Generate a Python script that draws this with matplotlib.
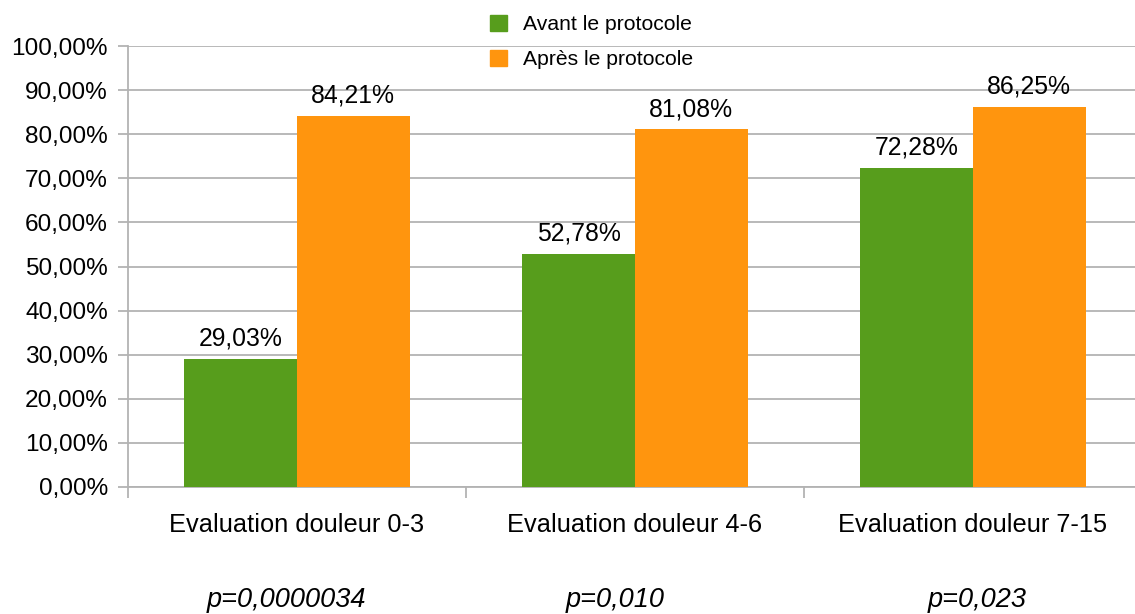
import matplotlib
matplotlib.use("Agg")
import matplotlib.pyplot as plt
from matplotlib.patches import Patch

plt.rcParams['font.family'] = ['Liberation Sans', 'DejaVu Sans']

categories = ['Evaluation douleur 0-3', 'Evaluation douleur 4-6', 'Evaluation douleur 7-15']
avant = [29.03, 52.78, 72.28]
apres = [84.21, 81.08, 86.25]
series_names = ['Avant le protocole', 'Après le protocole']
p_values = ['p=0,0000034', 'p=0,010', 'p=0,023']

GREEN = '#579d1c'
ORANGE = '#ff950e'
GRID = '#b3b3b3'


def pct(v):
    return ('%.2f%%' % v).replace('.', ',')


fig = plt.figure(figsize=(11.35, 6.14), dpi=100)
ax = fig.add_axes([128 / 1135, 127 / 614, 1014 / 1135, 441 / 614])

x = list(range(len(categories)))
w = 1 / 3
bars1 = ax.bar([i - w / 2 for i in x], avant, w, color=GREEN, zorder=3)
bars2 = ax.bar([i + w / 2 for i in x], apres, w, color=ORANGE, zorder=3)

for bars, vals in ((bars1, avant), (bars2, apres)):
    for b, v in zip(bars, vals):
        ax.annotate(pct(v), (b.get_x() + b.get_width() / 2, v),
                    xytext=(0, 6), textcoords='offset points',
                    ha='center', va='bottom', fontsize=17.8)

ax.set_ylim(0, 100)
ax.set_xlim(-0.5, 2.5)
ax.set_yticks(range(0, 101, 10))
ax.set_yticklabels([pct(v) for v in range(0, 101, 10)], fontsize=17.6)
ax.set_xticks(x)
ax.set_xticklabels(categories, fontsize=18.3)
ax.set_xticks([-0.5, 0.5, 1.5, 2.5], minor=True)
ax.tick_params(axis='x', which='major', length=0, pad=18.5)
ax.tick_params(axis='x', which='minor', length=8, width=1.3, color=GRID)
ax.tick_params(axis='y', length=7.5, width=1.3, color=GRID, pad=7)

ax.grid(axis='y', color=GRID, linewidth=1.3, zorder=0)
for s in ('top', 'right'):
    ax.spines[s].set_visible(False)
for s in ('left', 'bottom'):
    ax.spines[s].set_color(GRID)
    ax.spines[s].set_linewidth(1.3)

# p-values sit under each group, placed by hand in the original
p_x = [-0.031, 0.941, 2.013]
for px, txt in zip(p_x, p_values):
    ax.text(px, -(607 - 487) / 441, txt, transform=ax.get_xaxis_transform(),
            ha='center', va='baseline', fontsize=19.5, style='italic')

handles = [Patch(color=GREEN), Patch(color=ORANGE)]
fig.legend(handles, series_names, loc='upper left', bbox_to_anchor=(490 / 1135, 1 - 15 / 614),
           frameon=False, fontsize=15.2, borderpad=0, borderaxespad=0,
           handlelength=0.8, handleheight=0.8, handletextpad=0.75, labelspacing=0.72)

fig.savefig('out.png', dpi=100)
